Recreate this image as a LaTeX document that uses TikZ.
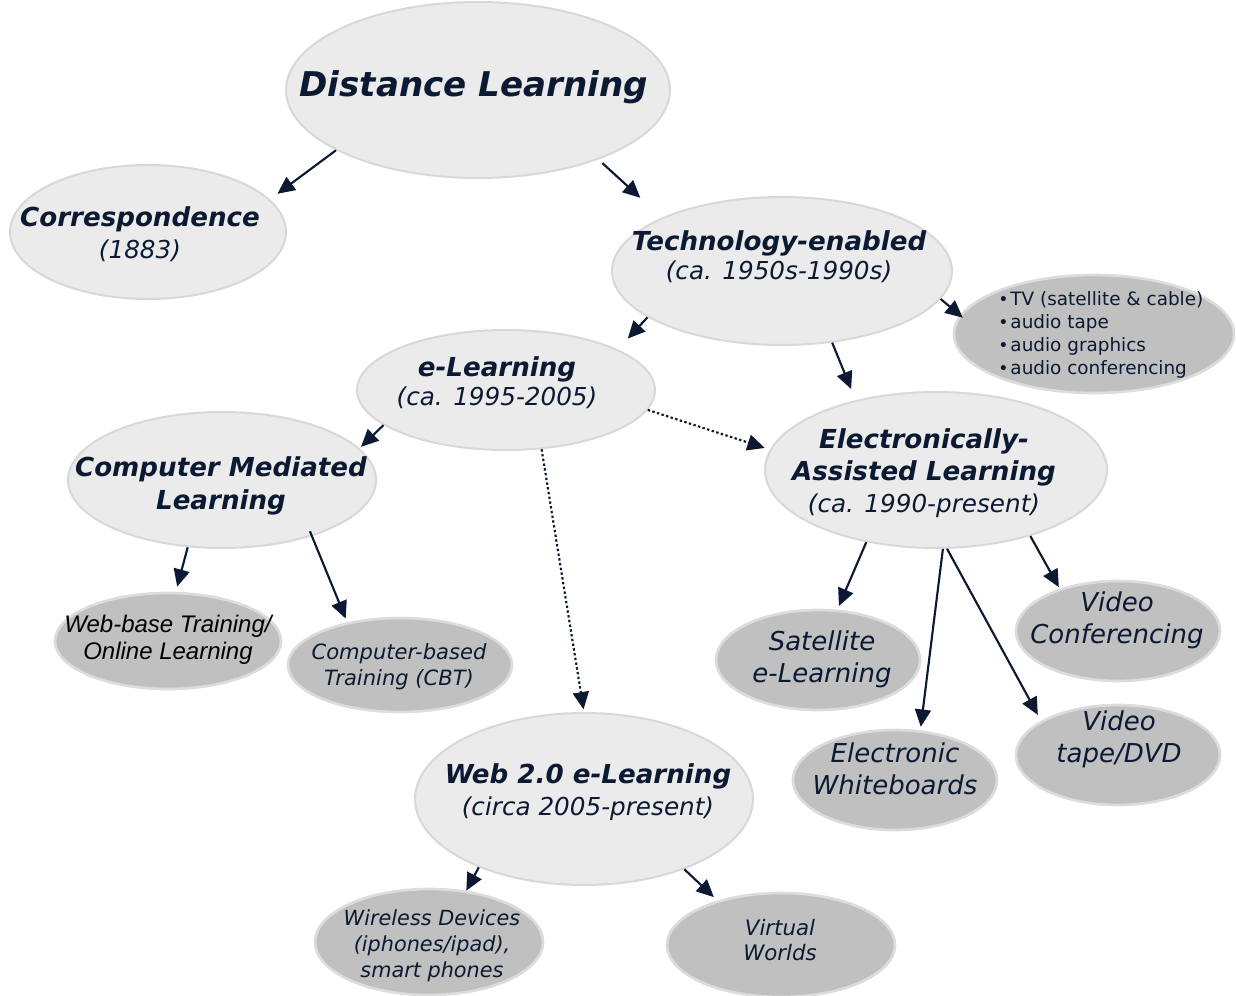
\documentclass[tikz,border=0pt]{standalone}
\usepackage{fontspec}
\setmainfont{DejaVu Sans}
\newfontfamily\arialfont{Liberation Sans}
\usetikzlibrary{shapes.geometric,arrows.meta}
\definecolor{navy}{HTML}{0B1A32}
\definecolor{lightfill}{HTML}{EBEBEB}
\definecolor{lightline}{HTML}{D8D8D8}
\definecolor{darkfill}{HTML}{C0C0C0}
\definecolor{darkline}{HTML}{DCDCDC}
\begin{document}
\begin{tikzpicture}[x=0.75pt,y=-0.75pt,
  sz/.style 2 args={minimum width={(#1)*0.75pt},minimum height={(#2)*0.75pt}},
  lightell/.style={ellipse, draw=lightline, fill=lightfill, line width=1.5pt, inner sep=0pt},
  darkell/.style={ellipse, draw=darkline, fill=darkfill, line width=2pt, inner sep=0pt},
  title/.style={text=navy, align=center, inner sep=0pt, font=\fontsize{19.6}{24}\selectfont\bfseries\itshape},
  leaf/.style={text=navy, align=center, inner sep=0pt, font=\fontsize{19.5}{24}\selectfont\itshape},
  smallleaf/.style={text=navy, align=center, inner sep=0pt, font=\fontsize{15.8}{19.5}\selectfont\itshape},
  arr/.style={draw=navy, line width=1.6pt, -{Triangle[length=13pt,width=12pt]}},
  dotarr/.style={arr, dash pattern=on 1.8pt off 1.8pt},
]
\useasboundingbox (0,0) rectangle (1236,996);

% ellipses
\node[lightell, sz={384}{176}] (dl)   at (478,90)  {};
\node[lightell, sz={276}{134}] (corr) at (148,232) {};
\node[lightell, sz={340}{148}] (tech) at (782,271) {};
\node[darkell,  sz={280}{118}] (bul)  at (1094,334) {};
\node[lightell, sz={298}{120}] (el)   at (506,390) {};
\node[lightell, sz={308}{136}] (cml)  at (222,480) {};
\node[lightell, sz={342}{156}] (eal)  at (936,470) {};
\node[darkell,  sz={226}{96}]  (wbt)  at (168,641) {};
\node[darkell,  sz={224}{94}]  (cbt)  at (400,665) {};
\node[lightell, sz={338}{172}] (web2) at (584,799) {};
\node[darkell,  sz={228}{106}] (wire) at (429,942) {};
\node[darkell,  sz={228}{104}] (virt) at (781,945) {};
\node[darkell,  sz={204}{100}] (sat)  at (818,660) {};
\node[darkell,  sz={204}{100}] (wb)   at (895,780) {};
\node[darkell,  sz={204}{100}] (vc)   at (1118,631) {};
\node[darkell,  sz={204}{100}] (vt)   at (1118,755) {};

% texts
\node[title, font=\fontsize{25.6}{30}\selectfont\bfseries\itshape] (dlt) at (474,87) {Distance Learning};
\node[title] (corrt) at (140,234) {Correspondence\\\mdseries\fontsize{18.5}{24}\selectfont(1883)};
\node[title, font=\fontsize{19.6}{22}\selectfont\bfseries\itshape] (techt) at (779,257) {Technology-enabled\\\mdseries\fontsize{18.5}{22}\selectfont(ca. 1950s-1990s)};
\node[title, font=\fontsize{19.6}{22}\selectfont\bfseries\itshape] (elt) at (497,383) {e-Learning\\\mdseries\fontsize{18.5}{22}\selectfont(ca. 1995-2005)};
\node[title, font=\fontsize{19.6}{24.5}\selectfont\bfseries\itshape] (cmlt) at (221,486) {Computer Mediated\\Learning};
\node[title] (ealt) at (924,473) {Electronically-\\Assisted Learning\\\mdseries\fontsize{18.5}{24}\selectfont(ca. 1990-present)};
\node[title] (web2t) at (588,792) {Web 2.0 e-Learning\\\mdseries\fontsize{18.5}{24}\selectfont(circa 2005-present)};
\node[text=navy, align=left, inner sep=0pt, anchor=west, font=\fontsize{13.8}{17.25}\selectfont] (bult) at (998,335)
  {{\fontsize{13}{13}\selectfont•}\hspace{1.5pt}TV (satellite \& cable)\\
   {\fontsize{13}{13}\selectfont•}\hspace{1.5pt}audio tape\\
   {\fontsize{13}{13}\selectfont•}\hspace{1.5pt}audio graphics\\
   {\fontsize{13}{13}\selectfont•}\hspace{1.5pt}audio conferencing};
\node[text=black, align=center, inner sep=0pt, font=\arialfont\fontsize{18}{20.3}\selectfont\itshape] (wbtt) at (168,640) {Web-base Training/\\Online Learning};
\node[smallleaf] (cbtt) at (399,667) {Computer-based\\Training (CBT)};
\node[leaf] (satt) at (822,659) {Satellite\\e-Learning};
\node[leaf] (wbtx) at (895,769) {Electronic\\Whiteboards};
\node[leaf] (vct) at (1117,620) {Video\\Conferencing};
\node[leaf] (vtt) at (1119,739) {Video\\tape/DVD};
\node[smallleaf, font=\fontsize{15.6}{19.5}\selectfont\itshape] (wiret) at (432,946) {Wireless Devices\\(iphones/ipad),\\smart phones};
\node[smallleaf, font=\fontsize{16}{19}\selectfont\itshape] (virtt) at (780,940) {Virtual\\Worlds};

% connectors
\draw[arr, shorten >=7pt] (dl.203.8) -- (corr.15.8);
\draw[arr, shorten <=4pt, shorten >=22pt] (dl.330.4) -- (tech.156.1);
\draw[arr, shorten >=11pt] (tech.199.9) -- (el.20.2);
\draw[arr, shorten >=-3pt] (tech.350.2) -- (bul.172.5);
\draw[arr, shorten >=9pt] (tech.305.6) -- (eal.139.2);
\draw[arr, shorten >=1.5pt] (el.196.4) -- (cml.13.1);
\draw[dotarr, shorten >=4pt] (el.352.9) -- (eal.173.7);
\draw[dotarr, shorten >=2pt] (el.301) -- (web2.90.3);
\draw[arr, shorten >=4pt] (cml.243.8) -- (wbt.81.1);
\draw[arr, shorten <=-4pt, shorten >=3pt] (cml.328.9) -- (cbt.141);
\draw[arr, shorten >=3pt] (eal.226.6) -- (sat.69.5);
\draw[arr, shorten >=2.6pt] (eal.275.9) -- (wb.63.2);
\draw[arr, shorten >=5pt] (eal.278.7) -- (vt.156.3);
\draw[arr, shorten >=1.3pt] (eal.325.1) -- (vc.144);
\draw[arr] (web2.213.8) -- (wire.54.2);
\draw[arr, shorten >=3.7pt] (web2.325.4) -- (virt.145.2);
\end{tikzpicture}
\end{document}
